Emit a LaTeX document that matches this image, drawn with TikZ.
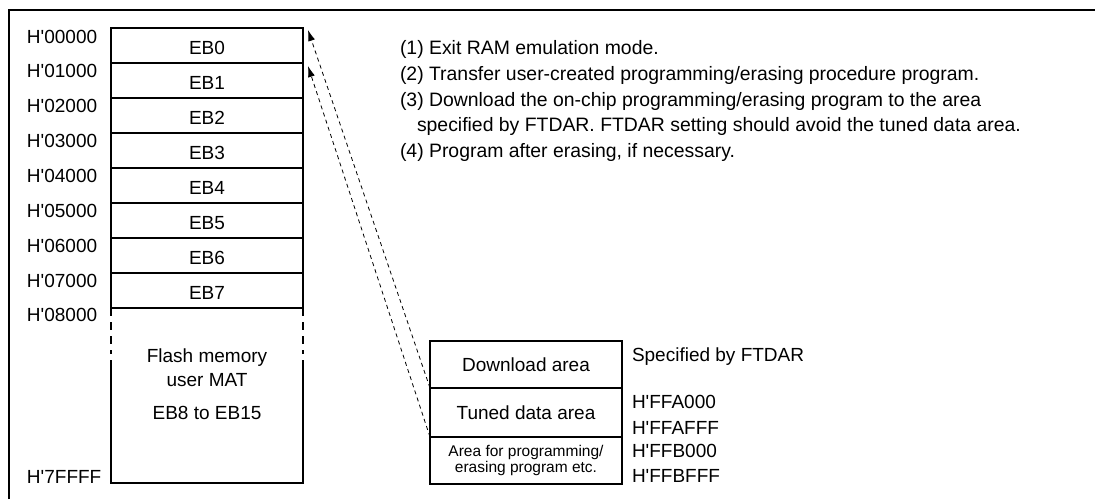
\documentclass[tikz,border=0pt]{standalone}
\usepackage{fontspec}
\setmainfont{Liberation Sans}
\usetikzlibrary{arrows.meta,calc}
\newcommand{\ap}{\textquotesingle}
\begin{document}
\begin{tikzpicture}[x=1pt,y=-1pt,
  lbl/.style={anchor=west,inner sep=0pt,outer sep=0pt,text height=13.6pt,text depth=0pt,font=\fontsize{19}{22}\selectfont},
  steptxt/.style={anchor=west,inner sep=0pt,outer sep=0pt,text height=14pt,text depth=0pt,font=\fontsize{19.4}{22}\selectfont},
  ebbox/.style={draw,line width=1.6pt,minimum width=192pt,minimum height=35pt,inner sep=0pt,outer sep=0pt,
    text height=18pt,text depth=0pt,font=\fontsize{19}{22}\selectfont,anchor=north west},
  rbox/.style={draw,line width=1.6pt,minimum width=192pt,inner sep=0pt,outer sep=0pt,anchor=north west,align=center},
  boxline/.style={line width=1.6pt},
  frameline/.style={line width=2pt},
  dashline/.style={line width=1.6pt,dash pattern=on 8pt off 6pt},
  moveline/.style={line width=0.8pt,dash pattern=on 4pt off 3.5pt,-{Latex[length=11pt,width=7pt]}},
  ctxt/.style={inner sep=0pt,outer sep=0pt,font=\fontsize{19}{22}\selectfont}
]
\useasboundingbox (0,0) rectangle (1095,499);
% outer frame
\coordinate (fr0) at (8.5,499);
\coordinate (fr1) at (8.5,9.5);
\coordinate (fr2) at (1095,9.5);
\draw[frameline] (fr0) -- (fr1) -- (fr2);

% EB blocks
\node[ebbox] (eb0) at (111,28) {EB0};
\node[ebbox] (eb1) at (111,63) {EB1};
\node[ebbox] (eb2) at (111,98) {EB2};
\node[ebbox] (eb3) at (111,133) {EB3};
\node[ebbox] (eb4) at (111,168) {EB4};
\node[ebbox] (eb5) at (111,203) {EB5};
\node[ebbox] (eb6) at (111,238) {EB6};
\node[ebbox] (eb7) at (111,273) {EB7};

% flash memory region
\coordinate (fl0) at (111,354);
\coordinate (fr0b) at (303,354);
\coordinate (flb) at (111,483);
\coordinate (frb) at (303,483);
\coordinate (fl1) at (111,360);
\coordinate (fr1b) at (303,360);
\draw[dashline] (eb7.south west) -- (fl0);
\draw[dashline] (eb7.south east) -- (fr0b);
\draw[boxline] (fl1) -- (flb) -- (frb) -- (fr1b);
\node[ctxt] (f1) at (207,358) {Flash memory};
\node[ctxt] (f2) at (207,380) {user MAT};
\node[ctxt] (f3) at (207,413) {EB8 to EB15};

% addresses
\node[lbl] (a0) at (27,37) {H\ap 00000};
\node[lbl] (a1) at (27,71) {H\ap 01000};
\node[lbl] (a2) at (27,106) {H\ap 02000};
\node[lbl] (a3) at (27,141) {H\ap 03000};
\node[lbl] (a4) at (27,176) {H\ap 04000};
\node[lbl] (a5) at (27,211) {H\ap 05000};
\node[lbl] (a6) at (27,246) {H\ap 06000};
\node[lbl] (a7) at (27,281) {H\ap 07000};
\node[lbl] (a8) at (27,315) {H\ap 08000};
\node[lbl] (a9) at (27,477) {H\ap 7FFFF};

% right boxes
\node[rbox,minimum height=47pt,font=\fontsize{19}{22}\selectfont] (dl) at (430,341) {Download area};
\node[rbox,minimum height=49pt,font=\fontsize{19}{22}\selectfont] (tuned) at (430,388) {Tuned data area};
\node[rbox,minimum height=47pt,font=\fontsize{15.5}{16}\selectfont] (prog) at (430,437) {Area for programming/\\erasing program etc.};

\node[lbl] (sp) at (632,355) {Specified by FTDAR};
\node[lbl] (r1) at (632,402) {H\ap FFA000};
\node[lbl] (r2) at (632,428) {H\ap FFAFFF};
\node[lbl] (r3) at (632,451) {H\ap FFB000};
\node[lbl] (r4) at (632,476) {H\ap FFBFFF};

% transfer arrows
\draw[moveline] (tuned.north west) -- ($(eb0.north east)+(5,2)$);
\draw[moveline] (tuned.south west) -- ($(eb1.north east)+(5,3)$);

% steps
\node[steptxt] (s1) at (400,47) {(1) Exit RAM emulation mode.};
\node[steptxt] (s2) at (400,73) {(2) Transfer user-created programming/erasing procedure program.};
\node[steptxt] (s3) at (400,99) {(3) Download the on-chip programming/erasing program to the area};
\node[steptxt] (s3b) at (417,124) {specified by FTDAR. FTDAR setting should avoid the tuned data area.};
\node[steptxt] (s4) at (400,150) {(4) Program after erasing, if necessary.};
\end{tikzpicture}
\end{document}
